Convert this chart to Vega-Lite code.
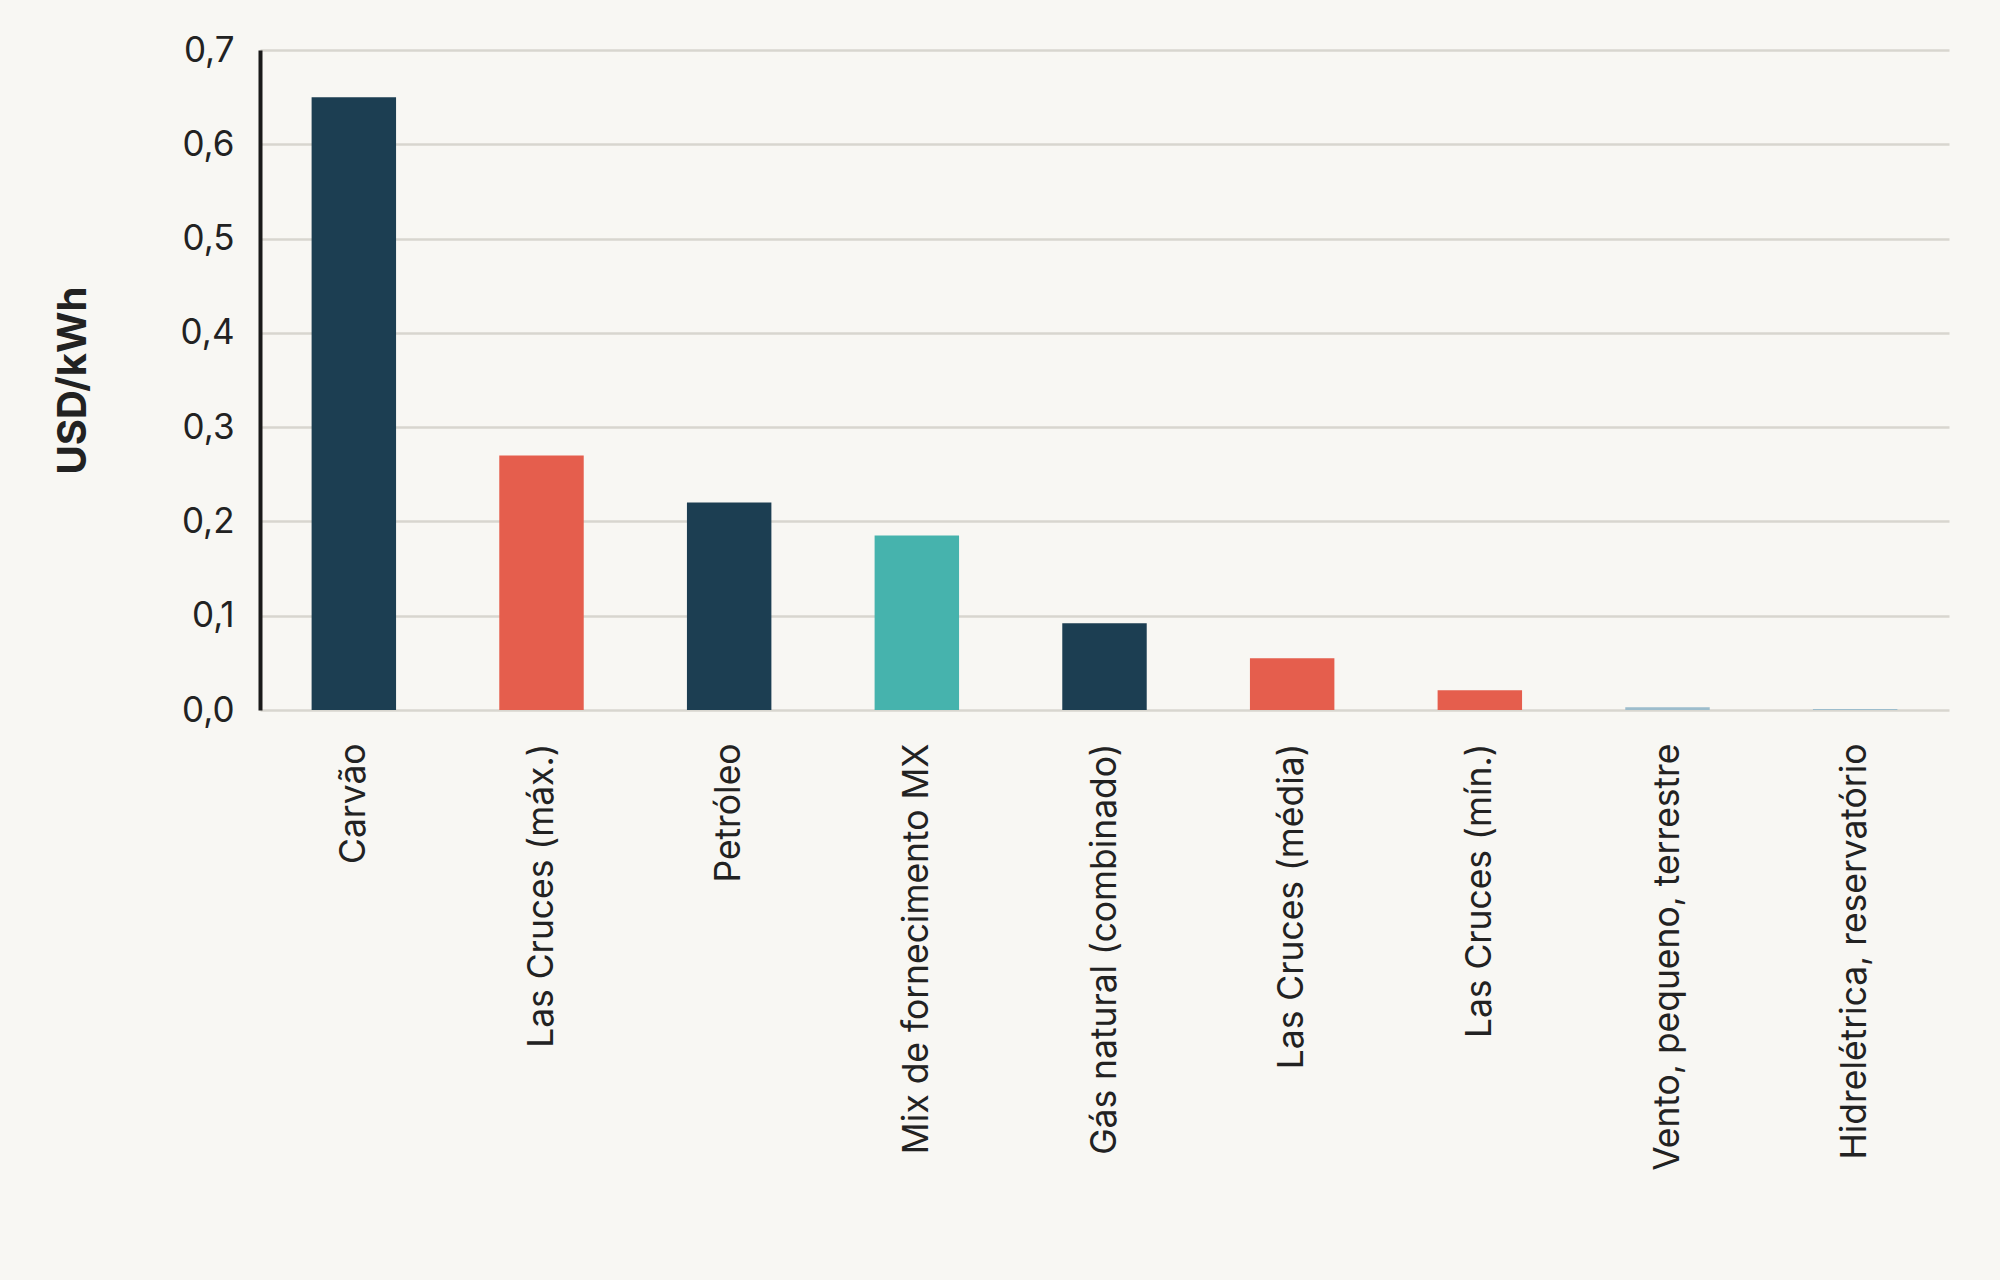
{
  "$schema": "https://vega.github.io/schema/vega-lite/v6.json",
  "width": 1689,
  "height": 660,
  "autosize": "none",
  "padding": {"left": 260, "top": 50, "right": 51, "bottom": 570},
  "background": "#f8f7f3",
  "data": {
    "values": [
      {"fonte": "Carvão", "custo": 0.65, "grupo": "fossil"},
      {"fonte": "Las Cruces (máx.)", "custo": 0.27, "grupo": "lascruces"},
      {"fonte": "Petróleo", "custo": 0.22, "grupo": "fossil"},
      {"fonte": "Mix de fornecimento MX", "custo": 0.185, "grupo": "mix"},
      {"fonte": "Gás natural (combinado)", "custo": 0.092, "grupo": "fossil"},
      {"fonte": "Las Cruces (média)", "custo": 0.055, "grupo": "lascruces"},
      {"fonte": "Las Cruces (mín.)", "custo": 0.021, "grupo": "lascruces"},
      {"fonte": "Vento, pequeno, terrestre", "custo": 0.003, "grupo": "renovavel"},
      {"fonte": "Hidrelétrica, reservatório", "custo": 0.001, "grupo": "renovavel"}
    ]
  },
  "mark": {"type": "bar"},
  "encoding": {
    "x": {
      "field": "fonte",
      "type": "nominal",
      "sort": null,
      "scale": {"paddingInner": 0.55, "paddingOuter": 0.275},
      "axis": {
        "title": null,
        "labelAngle": -90,
        "labelAlign": "right",
        "labelBaseline": "middle",
        "labelPadding": 33,
        "ticks": false,
        "domain": false,
        "grid": false,
        "labelFont": "Inter",
        "labelFontSize": 35.4,
        "labelColor": "#222222",
        "labelLimit": 0
      }
    },
    "y": {
      "field": "custo",
      "type": "quantitative",
      "scale": {"domain": [0, 0.7], "nice": false},
      "axis": {
        "title": "USD/kWh",
        "values": [0, 0.1, 0.2, 0.3, 0.4, 0.5, 0.6, 0.7],
        "labelExpr": "replace(format(datum.value, '.1f'), '.', ',')",
        "labelFont": "Inter",
        "labelFontSize": 35,
        "labelColor": "#222222",
        "labelPadding": 26,
        "ticks": false,
        "domainColor": "#1a1a1a",
        "domainWidth": 4,
        "gridColor": "#d8d6cf",
        "gridWidth": 2.5,
        "titleFont": "Inter",
        "titleFontSize": 40,
        "titleFontWeight": "bold",
        "titleColor": "#222222",
        "titleAngle": -90,
        "titleAlign": "center",
        "titleBaseline": "middle",
        "titleX": -187,
        "titleY": 330
      }
    },
    "color": {
      "field": "grupo",
      "type": "nominal",
      "scale": {
        "domain": ["fossil", "lascruces", "mix", "renovavel"],
        "range": ["#1c3e52", "#e55e4d", "#46b3ad", "#9dbdcc"]
      },
      "legend": null
    }
  },
  "config": {
    "view": {"stroke": null}
  }
}
